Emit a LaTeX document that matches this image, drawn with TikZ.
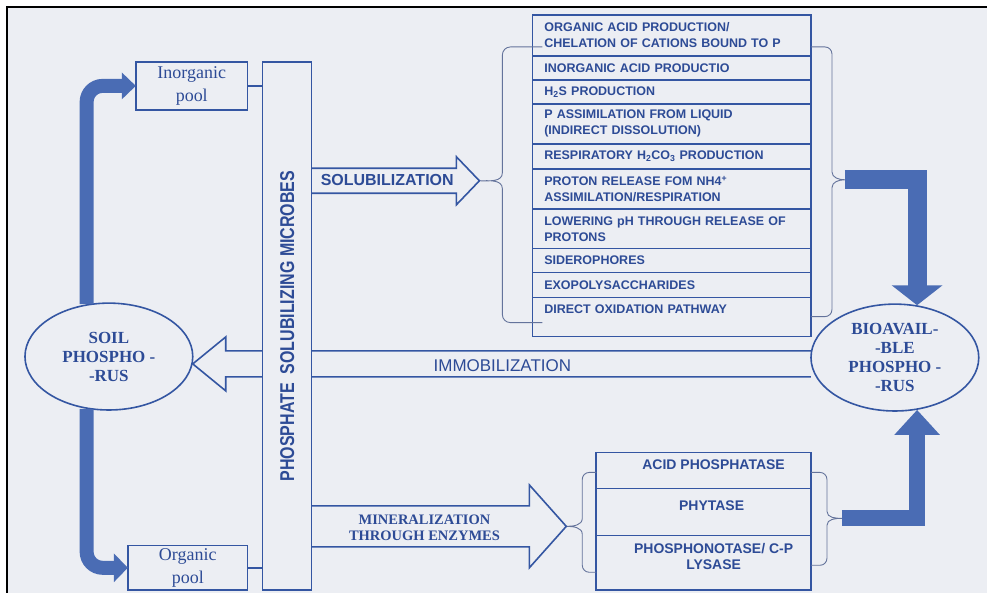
\documentclass[tikz,border=0pt]{standalone}
\usepackage{fontspec}
\usepackage{graphicx}
\setmainfont{Liberation Serif}
\setsansfont{Liberation Sans}
\usetikzlibrary{positioning,shapes.geometric,arrows.meta,calc}

\definecolor{paper}{RGB}{236,238,243}
\definecolor{bline}{RGB}{52,86,162}
\definecolor{btext}{RGB}{45,75,150}
\definecolor{fatc}{RGB}{74,108,180}
\definecolor{bracec}{RGB}{100,115,155}

% open block arrow: from, to, shaft half width, head half width, head length
\newcommand\blockarrow[5]{%
  \draw[hollow] let \p1=(#1), \p2=(#2), \n1={sign(\x2-\x1)} in
    (\x1,{\y2+#3}) -- ({\x2-(\n1)*#5},{\y2+#3}) -- ({\x2-(\n1)*#5},{\y2+#4})
    -- (\x2,\y2) -- ({\x2-(\n1)*#5},{\y2-#4}) -- ({\x2-(\n1)*#5},{\y2-#3})
    -- (\x1,{\y2-#3});}

\begin{document}
\begin{tikzpicture}[x=1pt, y=-1pt,
    box/.style={draw=bline, line width=1.6pt, inner sep=0pt, outer sep=0pt},
    pool/.style={box, align=center, text=btext, font=\fontsize{18}{23}\selectfont},
    lrow/.style={box, text width=255pt, inner xsep=12pt, align=left, minimum height=24pt, text=btext, font=\sffamily\bfseries\fontsize{12.5}{16}\selectfont},
    erow/.style={box, minimum width=215pt},
    enz/.style={align=center, text=btext, font=\sffamily\bfseries\fontsize{14}{16}\selectfont},
    blob/.style={draw=bline, line width=1.6pt, ellipse, minimum width=168pt, minimum height=107pt, inner sep=0pt, align=center, text=btext, font=\bfseries\fontsize{17}{19}\selectfont},
    fat/.style={line width=#1, draw=fatc},
    hollow/.style={draw=bline, line width=1.6pt, line join=miter},
    curly/.style={draw=bracec, line width=0.9pt},
]
    % paper and frame
    \fill[white] (0,0) rectangle (988,594);
    \fill[paper] (7,7) rectangle (988,594);
    \draw[black, line width=2.5pt] (988,7) -- (7,7) -- (7,594);

    % the two pools of phosphorus
    \node[blob] (soil) at (109,357) {SOIL\\PHOSPHO -\\-RUS};
    \node[blob] (bio) at (896,358) {BIOAVAIL-\\-BLE\\PHOSPHO -\\-RUS};

    % immobilization runs behind the microbes column
    \blockarrow{bio.185}{soil.-5}{13pt}{27pt}{33pt}
    \node[text=btext, font=\sffamily\fontsize{17}{20}\selectfont] (imm) at (503,366) {IMMOBILIZATION};

    \node[box, fill=paper, minimum width=49pt, minimum height=529pt] (micro) at (287.5,326.5) {};
    \node[rotate=90, text=btext, font=\sffamily\bfseries\fontsize{16}{18}\selectfont] (mtxt) at (micro.center)
        {\scalebox{1}[1.25]{PHOSPHATE\ \ SOLUBILIZING MICROBES}};

    \node[pool, minimum width=112pt, minimum height=48pt] (inorg) at (192,86) {Inorganic\\pool};
    \node[pool, minimum width=120pt, minimum height=45pt] (org) at (188,568.5) {Organic\\pool};
    \draw[bline, line width=1.6pt] (inorg.east) -- (inorg.east -| micro.west);
    \draw[bline, line width=1.6pt] (org.east) -- (org.east -| micro.west);

    \draw[fat=14pt, rounded corners=16pt, -{Triangle[length=14pt, width=26pt]}] (soil.113) |- (inorg.west);
    \draw[fat=14pt, rounded corners=16pt, -{Triangle[length=14pt, width=28pt]}] (soil.-113) |- (org.west);

    % solubilization mechanisms
    \node[lrow, anchor=north west, minimum height=41pt] (r1) at (533,15) {ORGANIC ACID PRODUCTION/\\CHELATION OF CATIONS BOUND TO P};
    \node[lrow, below=0pt of r1] (r2) {INORGANIC ACID PRODUCTIO};
    \node[lrow, below=0pt of r2] (r3) {H\textsubscript{2}S PRODUCTION};
    \node[lrow, below=0pt of r3, minimum height=40pt] (r4) {P ASSIMILATION FROM LIQUID\\(INDIRECT DISSOLUTION)};
    \node[lrow, below=0pt of r4, minimum height=25pt] (r5) {RESPIRATORY H\textsubscript{2}CO\textsubscript{3} PRODUCTION};
    \node[lrow, below=0pt of r5, minimum height=40pt] (r6) {PROTON RELEASE FOM NH4\textsuperscript{+}\\ASSIMILATION/RESPIRATION};
    \node[lrow, below=0pt of r6, minimum height=40pt] (r7) {LOWERING pH THROUGH RELEASE OF\\PROTONS};
    \node[lrow, below=0pt of r7] (r8) {SIDEROPHORES};
    \node[lrow, below=0pt of r8, minimum height=25pt] (r9) {EXOPOLYSACCHARIDES};
    \node[lrow, below=0pt of r9, minimum height=39pt] (r10) {DIRECT OXIDATION PATHWAY\\\mbox{}};

    \coordinate (lbt) at (480,181);
    \coordinate (rbt) at (846,180);
    \draw[curly] (543,47) -- (511,47) to[out=180,in=90] (503,55) -- (503,173)
        to[out=-90,in=0] (lbt) to[out=0,in=90] (503,189) -- (503,315)
        to[out=-90,in=180] (511,323) -- (543,323);
    \draw[curly] (812,47) -- (826,47) to[out=0,in=90] (833,54) -- (833,172)
        to[out=-90,in=180] (rbt) to[out=180,in=90] (833,188) -- (833,310)
        to[out=-90,in=0] (826,317) -- (812,317);

    \blockarrow{micro.east |- lbt}{lbt}{12.5pt}{24pt}{23pt}
    \node[anchor=west, inner sep=0pt, text=btext, font=\sffamily\bfseries\fontsize{16}{18}\selectfont] (sol) at (321,180) {SOLUBILIZATION};

    \draw[fat=19pt, line join=miter, -{Triangle[length=20pt, width=50pt]}] (rbt) -| (bio.67);

    % mineralization enzymes
    \node[erow, anchor=north west, minimum height=36pt] (e1) at (597,453) {};
    \node[erow, below=0pt of e1, minimum height=47pt] (e2) {};
    \node[erow, below=0pt of e2, minimum height=55pt] (e3) {};
    \node[enz] (t1) at ([shift={(10,-6)}]e1.center) {ACID PHOSPHATASE};
    \node[enz] (t2) at ([shift={(8,-6)}]e2.center) {PHYTASE};
    \node[enz] (t3) at ([shift={(10,-6)}]e3.center) {PHOSPHONOTASE/ C-P\\LYSASE};

    \coordinate (lbb) at (567,527);
    \coordinate (rbb) at (843,519);
    \draw[curly] (597,473) -- (590,473) to[out=180,in=90] (583,480) -- (583,519)
        to[out=-90,in=0] (lbb) to[out=0,in=90] (583,535) -- (583,566)
        to[out=-90,in=180] (590,573) -- (597,573);
    \draw[curly] (812,473) -- (821,473) to[out=0,in=90] (828,480) -- (828,512)
        to[out=-90,in=180] (rbb) to[out=180,in=90] (828,526) -- (828,559)
        to[out=-90,in=0] (821,566) -- (812,566);

    \blockarrow{micro.east |- lbb}{lbb}{20.5pt}{41.5pt}{37pt}
    \node[align=center, text=btext, font=\bfseries\fontsize{14.5}{16}\selectfont] (minr) at (425,528) {MINERALIZATION\\THROUGH ENZYMES};

    \draw[fat=16pt, line join=miter, -{Triangle[length=25pt, width=44pt]}] (rbb) -| (bio.-67);
\end{tikzpicture}
\end{document}
